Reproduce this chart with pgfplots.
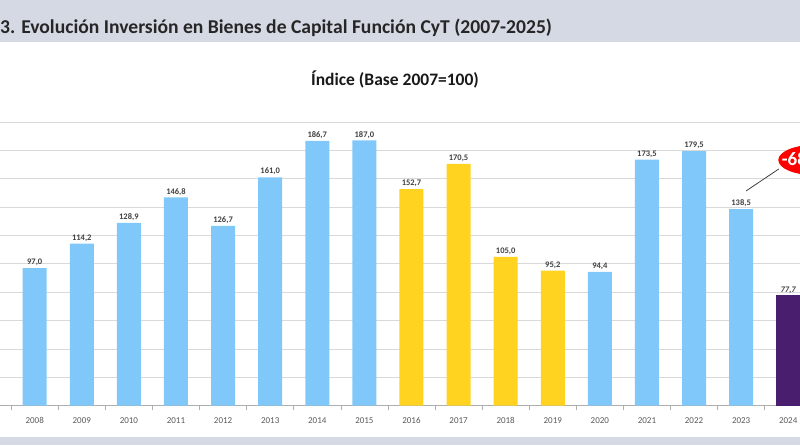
\documentclass[border=0pt]{standalone}
\usepackage{pgfplots}
\pgfplotsset{compat=1.18}
\usepackage{fontspec}
\setmainfont{Carlito}
\usetikzlibrary{shapes.geometric}
\definecolor{cblue}{HTML}{80C8FA}
\definecolor{cyellow}{HTML}{FFD320}
\definecolor{cpurple}{HTML}{4A1E6E}
\definecolor{band}{HTML}{D5D9E4}
\definecolor{gridc}{HTML}{D9D9D9}
\definecolor{lbl}{HTML}{404040}
\definecolor{tickc}{HTML}{595959}
\begin{document}
\begin{tikzpicture}[x=1pt,y=1pt]
\begin{axis}[
  scale only axis, width=800pt, height=283.7pt,
  xmin=0.263, xmax=17.25, ymin=0, ymax=200,
  axis x line=bottom, axis y line=left,
  x axis line style={-, draw=gridc!80!black, line width=0.8pt},
  y axis line style={draw=none},
  ytick={0,20,...,200}, yticklabels={}, ytick style={draw=none},
  ymajorgrids, grid style={gridc, line width=0.9pt},
  xtick={1,...,17},
  xticklabels={2008,2009,2010,2011,2012,2013,2014,2015,2016,2017,2018,2019,2020,2021,2022,2023,2024},
  major x tick style={draw=none},
  minor xtick={0.5,1.5,...,17.5},
  minor x tick style={draw=gridc!80!black, line width=0.6pt},
  minor tick length=4pt,
  xtick align=outside,
  xticklabel style={font=\fontsize{9}{10}\selectfont, text=tickc, yshift=-4pt},
  ybar, bar width=24pt, bar shift=0pt,
  nodes near coords={\pgfmathprintnumber[fixed,fixed zerofill,precision=1,use comma,assume math mode=true]{\pgfplotspointmeta}},
  every node near coord/.append style={font=\bfseries\fontsize{8.5}{9}\selectfont, text=lbl, inner sep=2pt},
]
\addplot[fill=cblue, draw=none] coordinates {(0,100.0) (1,97.0) (2,114.2) (3,128.9) (4,146.8) (5,126.7) (6,161.0) (7,186.7) (8,187.0) (13,94.4) (14,173.5) (15,179.5) (16,138.5)};
\addplot[fill=cyellow, draw=none] coordinates {(9,152.7) (10,170.5) (11,105.0) (12,95.2)};
\addplot[fill=cpurple, draw=none, every node near coord/.append style={font=\bfseries\itshape\fontsize{8.5}{9}\selectfont}] coordinates {(17,77.7)};
\draw[lbl, line width=0.8pt] (axis cs:16.105,151.4) -- (axis cs:16.80,166.9);
\node[ellipse, fill=red, draw=none, minimum width=70pt, minimum height=30pt, inner sep=0, anchor=west] (b) at (axis cs:16.785,173.2) {};
\node[anchor=west, xshift=3.5pt, inner sep=0, text=white, font=\bfseries\fontsize{19}{21}\selectfont] at (b.west) {-68,2\%};
\coordinate (pbl) at (rel axis cs:0,0);
\end{axis}
\begin{scope}[shift={(pbl)}, yshift=-39.3pt]
\fill[band] (0,403) rectangle (800,445);
\fill[band] (0,0) rectangle (800,8);
\node[anchor=base west, inner sep=0, font=\bfseries\fontsize{19.6}{22}\selectfont, text=black!85] at (0,411.5) {3. Evolución Inversión en Bienes de Capital Función CyT (2007-2025)};
\node[anchor=base, inner sep=0, font=\bfseries\fontsize{17.5}{20}\selectfont, text=black!90] at (395,359.5) {Índice (Base 2007=100)};
\pgfresetboundingbox
\useasboundingbox (0,0) rectangle (800,445);
\end{scope}
\end{tikzpicture}
\end{document}
